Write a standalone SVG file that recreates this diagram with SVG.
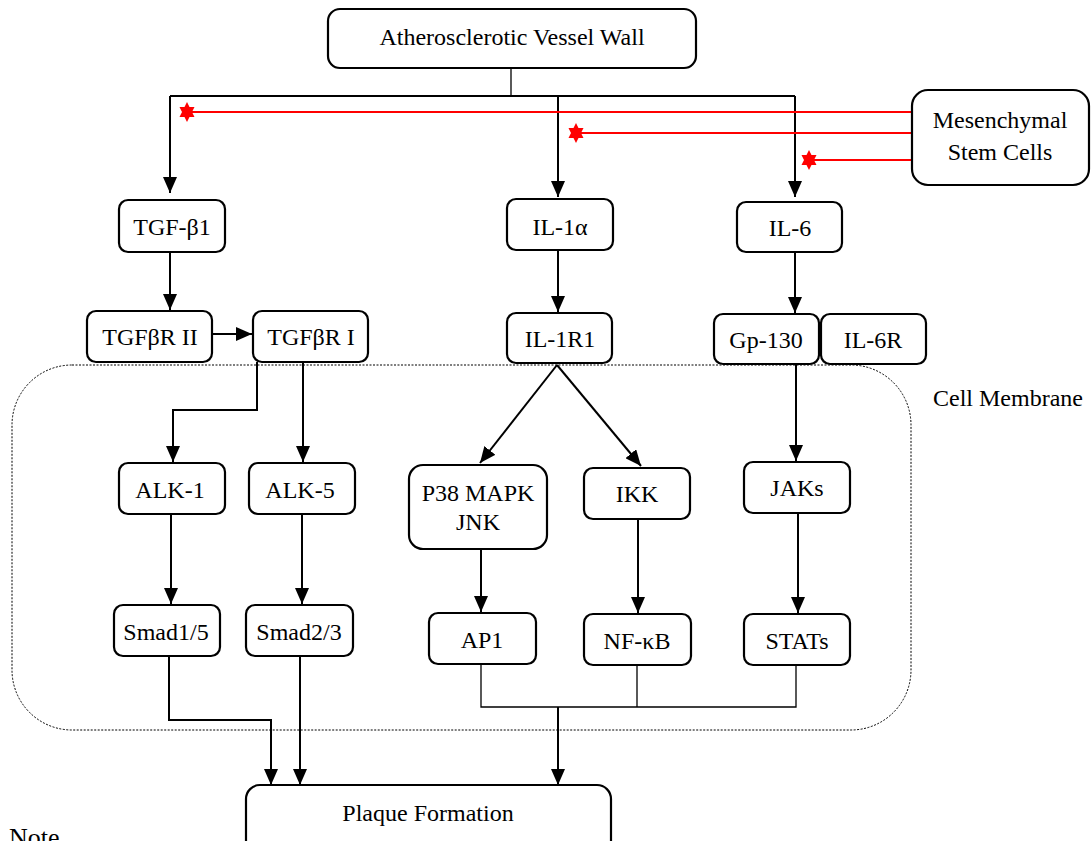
<svg xmlns="http://www.w3.org/2000/svg" width="1091" height="841" viewBox="0 0 1091 841">
<style>
.n rect{fill:#fff;stroke:#000;stroke-width:2.2}
.n text,.lbl{font-family:"Liberation Serif","Times New Roman",serif;font-size:24px;fill:#000;text-anchor:middle}
.c{fill:none;stroke:#000;stroke-width:2}
.t{fill:none;stroke:#000;stroke-width:1.3}
.r{fill:none;stroke:#f00;stroke-width:2}
</style>
<defs>
<marker id="ah" markerWidth="16" markerHeight="14" refX="16" refY="7" orient="auto" markerUnits="userSpaceOnUse"><path d="M0,0 L16,7 L0,14 z" fill="#000"/></marker>
<path id="star" d="M0,-10 L7.5,5 L-7.5,5 Z M0,10 L-7.5,-5 L7.5,-5 Z" fill="#f00"/>
</defs>
<rect x="12" y="365" width="899" height="365" rx="60" ry="60" fill="none" stroke="#000" stroke-width="1" stroke-dasharray="2,1.5"/>
<text class="lbl" x="1008" y="406">Cell Membrane</text>
<g id="connectors">
<path class="t" d="M511,68 V96"/>
<path class="c" d="M170,96 H795"/>
<path class="c" d="M170,96 V193" marker-end="url(#ah)"/>
<path class="c" d="M558,96 V197" marker-end="url(#ah)"/>
<path class="c" d="M795,96 V197" marker-end="url(#ah)"/>
<path class="r" d="M188,112 H912"/>
<path class="r" d="M576,133 H912"/>
<path class="r" d="M809,160 H912"/>
<path class="c" d="M170,252 V310" marker-end="url(#ah)"/>
<path class="c" d="M212,334 H252" marker-end="url(#ah)"/>
<path class="c" d="M558,250 V312" marker-end="url(#ah)"/>
<path class="c" d="M795,252 V313" marker-end="url(#ah)"/>
<path class="c" d="M257,362 V410 H173 V462" marker-end="url(#ah)"/>
<path class="c" d="M303,362 V462" marker-end="url(#ah)"/>
<path class="c" d="M557,365 L480,463" marker-end="url(#ah)"/>
<path class="c" d="M557,365 L641,466" marker-end="url(#ah)"/>
<path class="c" d="M796,364 V461" marker-end="url(#ah)"/>
<path class="c" d="M171,514 V604" marker-end="url(#ah)"/>
<path class="c" d="M302,514 V604" marker-end="url(#ah)"/>
<path class="c" d="M481,549 V612" marker-end="url(#ah)"/>
<path class="c" d="M638,519 V613" marker-end="url(#ah)"/>
<path class="c" d="M798,513 V613" marker-end="url(#ah)"/>
<path class="c" d="M169,656 V720 H271 V785" marker-end="url(#ah)"/>
<path class="c" d="M300,656 V785" marker-end="url(#ah)"/>
<path class="t" d="M481,664 V707 H796 V665 M637,665 V707"/>
<path class="c" d="M558,707 V785" marker-end="url(#ah)"/>
<use href="#star" x="187" y="112"/>
<use href="#star" x="576" y="133"/>
<use href="#star" x="809" y="160"/>
</g>
<g id="vessel" class="n"><rect x="328" y="9" width="368" height="59" rx="12"/><text x="512" y="45">Atherosclerotic Vessel Wall</text></g>
<g id="msc" class="n"><rect x="912" y="90" width="177" height="95" rx="16"/><text x="1000" y="128">Mesenchymal</text><text x="1000" y="160">Stem Cells</text></g>
<g id="tgfb1" class="n"><rect x="119" y="200" width="106" height="52" rx="9"/><text x="172" y="235">TGF-β1</text></g>
<g id="il1a" class="n"><rect x="507" y="199" width="106" height="51" rx="9"/><text x="560" y="235">IL-1α</text></g>
<g id="il6" class="n"><rect x="737" y="202" width="105" height="50" rx="9"/><text x="790" y="236">IL-6</text></g>
<g id="tgfbr2" class="n"><rect x="87" y="311" width="125" height="51" rx="9"/><text x="150" y="345">TGFβR II</text></g>
<g id="tgfbr1" class="n"><rect x="253" y="311" width="115" height="51" rx="9"/><text x="311" y="345">TGFβR I</text></g>
<g id="il1r1" class="n"><rect x="507" y="313" width="105" height="50" rx="9"/><text x="560" y="347">IL-1R1</text></g>
<g id="gp130" class="n"><rect x="714" y="314" width="105" height="50" rx="9"/><text x="766" y="348">Gp-130</text></g>
<g id="il6r" class="n"><rect x="821" y="314" width="105" height="50" rx="9"/><text x="873" y="348">IL-6R</text></g>
<g id="alk1" class="n"><rect x="119" y="463" width="106" height="51" rx="9"/><text x="170" y="498">ALK-1</text></g>
<g id="alk5" class="n"><rect x="249" y="463" width="106" height="51" rx="9"/><text x="300" y="498">ALK-5</text></g>
<g id="p38" class="n"><rect x="409" y="465" width="138" height="84" rx="14"/><text x="478" y="501">P38 MAPK</text><text x="478" y="530">JNK</text></g>
<g id="ikk" class="n"><rect x="584" y="468" width="106" height="51" rx="9"/><text x="637" y="502">IKK</text></g>
<g id="jaks" class="n"><rect x="744" y="462" width="106" height="51" rx="9"/><text x="797" y="496">JAKs</text></g>
<g id="smad15" class="n"><rect x="114" y="605" width="106" height="51" rx="9"/><text x="166" y="640">Smad1/5</text></g>
<g id="smad23" class="n"><rect x="246" y="605" width="107" height="51" rx="9"/><text x="299" y="640">Smad2/3</text></g>
<g id="ap1" class="n"><rect x="429" y="613" width="107" height="51" rx="9"/><text x="482" y="648">AP1</text></g>
<g id="nfkb" class="n"><rect x="584" y="614" width="107" height="51" rx="9"/><text x="637" y="649">NF-κB</text></g>
<g id="stats" class="n"><rect x="744" y="614" width="106" height="51" rx="9"/><text x="797" y="649">STATs</text></g>
<g id="plaque" class="n"><rect x="246" y="785" width="365" height="70" rx="14"/><text x="428" y="821">Plaque Formation</text></g>
<text x="9" y="846" font-family="Liberation Serif,serif" font-size="26">Note</text>
</svg>
